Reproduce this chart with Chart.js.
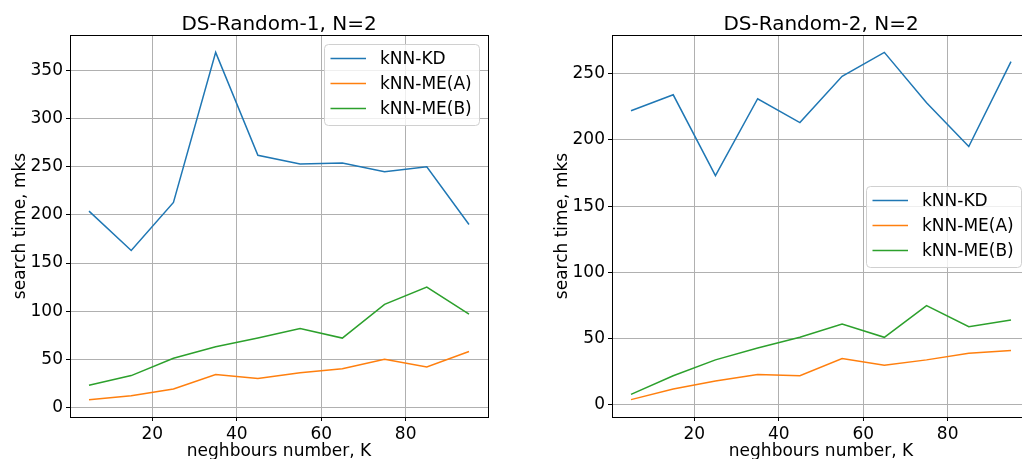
<!DOCTYPE html>
<html>
<head>
<meta charset="utf-8">
<script src="https://cdn.jsdelivr.net/npm/chart.js@4.4.1/dist/chart.umd.min.js"></script>
<style>
  html, body { margin: 0; padding: 0; background: #fff; overflow: hidden; }
  #wrap { position: relative; width: 1022px; height: 459px; overflow: hidden; }
  canvas { position: absolute; top: 0; }
  #c1 { left: 0; }
  #c2 { left: 542px; }
</style>
</head>
<body>
<div id="wrap">
  <canvas id="c1" width="511" height="459"></canvas>
  <canvas id="c2" width="511" height="459"></canvas>
</div>
<script>
// K values on the x axis
const kValues = [5, 15, 25, 35, 45, 55, 65, 75, 85, 95];
const seriesNames = ["kNN-KD", "kNN-ME(A)", "kNN-ME(B)"];
const seriesColors = ["#1f77b4", "#ff7f0e", "#2ca02c"];

// DS-Random-1
const r1KD = [204, 163, 213, 369, 262, 253, 254, 245, 250, 190];
const r1MEA = [8, 12, 19, 34, 30, 36, 40, 50, 42, 58];
const r1MEB = [23, 33, 51, 63, 72, 82, 72, 107, 125, 97];

// DS-Random-2
const r2KD = [222, 234, 173, 231, 213, 248, 266, 228, 195, 259];
const r2MEA = [4, 12, 18, 23, 22, 35, 30, 34, 39, 41];
const r2MEB = [8, 22, 34, 43, 51, 61, 51, 75, 59, 64];

// tick labels
const xTicks = [20, 40, 60, 80];
const yTicks1 = [0, 50, 100, 150, 200, 250, 300, 350];
const yTicks2 = [0, 50, 100, 150, 200, 250];

const FONT = "'DejaVu Sans', sans-serif";

// matplotlib style 5% margins
function limits(values) {
  const lo = Math.min(...values), hi = Math.max(...values);
  const m = (hi - lo) * 0.05;
  return [lo - m, hi + m];
}

// frame + legend drawn inside the plot area
const framePlugin = {
  id: "frameLegend",
  afterDatasetsDraw(chart, args, opts) {
    const ctx = chart.ctx;
    const a = chart.chartArea;
    ctx.save();
    ctx.strokeStyle = "#000";
    ctx.lineWidth = 1;
    ctx.strokeRect(Math.round(a.left) + 0.5, Math.round(a.top) + 0.5,
      Math.round(a.right - a.left), Math.round(a.bottom - a.top));

    const w = 155, h = 81;
    const x = a.right - 9 - w;
    const y = opts.loc === "center right" ? (a.top + a.bottom) / 2 - h / 2 + 0.5 : a.top + 9;
    ctx.beginPath();
    ctx.roundRect(x + 0.5, y + 0.5, w, h, 4);
    ctx.fillStyle = "rgba(255,255,255,0.8)";
    ctx.fill();
    ctx.strokeStyle = "#d0d0d0";
    ctx.stroke();

    ctx.font = "17px " + FONT;
    ctx.textBaseline = "middle";
    ctx.textAlign = "left";
    chart.data.datasets.forEach((ds, i) => {
      const ly = y + 14.5 + i * 25;
      ctx.strokeStyle = ds.borderColor;
      ctx.lineWidth = 1.5;
      ctx.beginPath();
      ctx.moveTo(x + 6.5, ly);
      ctx.lineTo(x + 42, ly);
      ctx.stroke();
      ctx.fillStyle = "#000";
      ctx.fillText(ds.label, x + 56, ly + 1);
    });
    ctx.restore();
  }
};

function makeChart(id, title, series, yTicks, loc) {
  const allY = series.flat();
  const [ymin, ymax] = limits(allY);
  const [xmin, xmax] = limits(kValues);
  return new Chart(document.getElementById(id), {
    type: "line",
    data: {
      datasets: series.map((vals, i) => ({
        label: seriesNames[i],
        data: kValues.map((k, j) => ({ x: k, y: vals[j] })),
        borderColor: seriesColors[i],
        backgroundColor: seriesColors[i],
        borderWidth: 1.5,
        pointRadius: 0,
        tension: 0,
        fill: false
      }))
    },
    options: {
      responsive: false,
      animation: false,
      layout: { padding: { left: 0, right: 23, top: 0, bottom: 0 } },
      plugins: {
        legend: { display: false },
        tooltip: { enabled: false },
        title: {
          display: true,
          text: title,
          fullSize: false,
          color: "#000",
          font: { family: FONT, size: 20, weight: "normal", lineHeight: 1 },
          padding: { top: 15, bottom: 0 }
        },
        frameLegend: { loc: loc }
      },
      scales: {
        x: {
          type: "linear",
          min: xmin,
          max: xmax,
          afterBuildTicks: s => { s.ticks = xTicks.map(v => ({ value: v })); },
          afterFit: s => { s.height = 42; },
          ticks: { color: "#000", font: { family: FONT, size: 17 }, padding: 3, maxRotation: 0 },
          grid: { color: "#b0b0b0", lineWidth: 1, tickColor: "#000", tickLength: 4 },
          border: { display: true, color: "#000", width: 1 },
          title: {
            display: true,
            text: "neghbours number, K",
            color: "#000",
            font: { family: FONT, size: 17, lineHeight: 0.88 },
            padding: { top: 0, bottom: 0 }
          }
        },
        y: {
          type: "linear",
          min: ymin,
          max: ymax,
          afterBuildTicks: s => { s.ticks = yTicks.map(v => ({ value: v })); },
          afterFit: s => { s.width = 70; },
          ticks: { color: "#000", font: { family: FONT, size: 17 }, padding: 3 },
          grid: { color: "#b0b0b0", lineWidth: 1, tickColor: "#000", tickLength: 4 },
          border: { display: true, color: "#000", width: 1 },
          title: {
            display: true,
            text: "search time, mks",
            color: "#000",
            font: { family: FONT, size: 17, lineHeight: 1.2 },
            padding: { top: 10, bottom: 0 }
          }
        }
      }
    },
    plugins: [framePlugin]
  });
}

makeChart("c1", "DS-Random-1, N=2", [r1KD, r1MEA, r1MEB], yTicks1, "upper right");
makeChart("c2", "DS-Random-2, N=2", [r2KD, r2MEA, r2MEB], yTicks2, "center right");
</script>
</body>
</html>
